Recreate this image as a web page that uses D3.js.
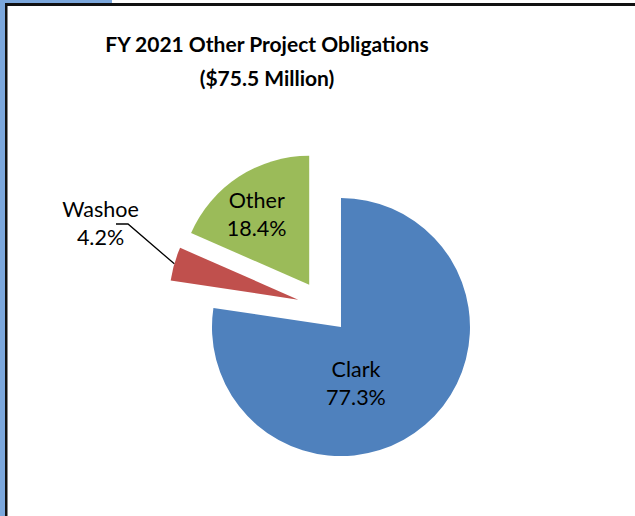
<!DOCTYPE html>
<html>
<head>
<meta charset="utf-8">
<script src="https://cdn.jsdelivr.net/npm/d3@7"></script>
<style>
  html, body { margin: 0; padding: 0; background: #fff; }
  svg { display: block; }
</style>
</head>
<body>
<svg id="chart"></svg>
<script>
const width = 635;
const height = 516;

const titleLines = ['FY 2021 Other Project Obligations', '($75.5 Million)'];
const categories = ['Clark', 'Washoe', 'Other'];
const shares = [77.3, 4.2, 18.4];
const colors = ['#4F81BD', '#C0504D', '#9BBB59'];

const svg = d3.select('#chart')
            .attr('width', width)
            .attr('height', height);

// frame: blue strips behind a black border (top and left only)
svg.append('rect').attr('x', 0).attr('y', 0).attr('width', 5).attr('height', height).attr('fill', '#7BA7DC');
svg.append('rect').attr('x', 0).attr('y', 0).attr('width', 112).attr('height', 3).attr('fill', '#7BA7DC');
svg.append('rect').attr('x', 5).attr('y', 3).attr('width', width - 5).attr('height', 3).attr('fill', '#111');
svg.append('rect').attr('x', 5).attr('y', 3).attr('width', 2.5).attr('height', height - 3).attr('fill', '#111');

const font = 'Lato, Carlito, Calibri, sans-serif';

svg.append('g').selectAll('text')
  .data(titleLines).enter()
  .append('text')
  .attr('x', 267)
  .attr('y', (d, i) => 52 + i * 34)
  .attr('text-anchor', 'middle')
  .style('font-family', font)
  .style('font-weight', 'bold')
  .style('font-size', '21px')
  .style('fill', '#000')
  .text(d => d);

const cx = 323.7, cy = 307;
const radius = 129;
const explode = 26.5;

const pie = d3.pie().sort(null).value(d => d);
const arc = d3.arc().innerRadius(0).outerRadius(radius);

const slices = pie(shares).map((p, i) => {
  const mid = (p.startAngle + p.endAngle) / 2;
  return {
    p: p,
    name: categories[i],
    value: shares[i],
    color: colors[i],
    mid: mid,
    dx: Math.sin(mid) * explode,
    dy: -Math.cos(mid) * explode
  };
});

const pieG = svg.append('g').attr('transform', `translate(${cx}, ${cy})`);

pieG.selectAll('path')
  .data(slices).enter()
  .append('path')
  .attr('transform', d => `translate(${d.dx}, ${d.dy})`)
  .attr('d', d => arc(d.p))
  .attr('fill', d => d.color);

// label anchor offsets from each slice's tip (missing = outside label with leader)
const labelOffsets = {
  'Clark': [15, 50],
  'Other': [-52.5, -77]
};

slices.forEach(s => {
  const off = labelOffsets[s.name];
  const g = pieG.append('g');
  let lx, ly;
  if (off) {
    lx = s.dx + off[0];
    ly = s.dy + off[1];
  } else {
    // outside label with a leader line to the arc
    const ax = s.dx + Math.sin(s.mid) * radius;
    const ay = s.dy - Math.cos(s.mid) * radius;
    lx = 100.5 - cx;
    ly = 217 - cy;
    g.append('path')
      .attr('d', d3.line()([[116 - cx, 224 - cy], [128 - cx, 224 - cy], [ax, ay]]))
      .attr('fill', 'none')
      .attr('stroke', '#000')
      .attr('stroke-width', 1.3);
  }
  g.selectAll('text')
    .data([s.name, s.value.toFixed(1) + '%']).enter()
    .append('text')
    .attr('x', lx)
    .attr('y', (d, i) => ly + i * 28)
    .attr('text-anchor', 'middle')
    .style('font-family', font)
    .style('font-size', '21.5px')
    .style('fill', '#000')
    .text(d => d);
});
</script>
</body>
</html>
